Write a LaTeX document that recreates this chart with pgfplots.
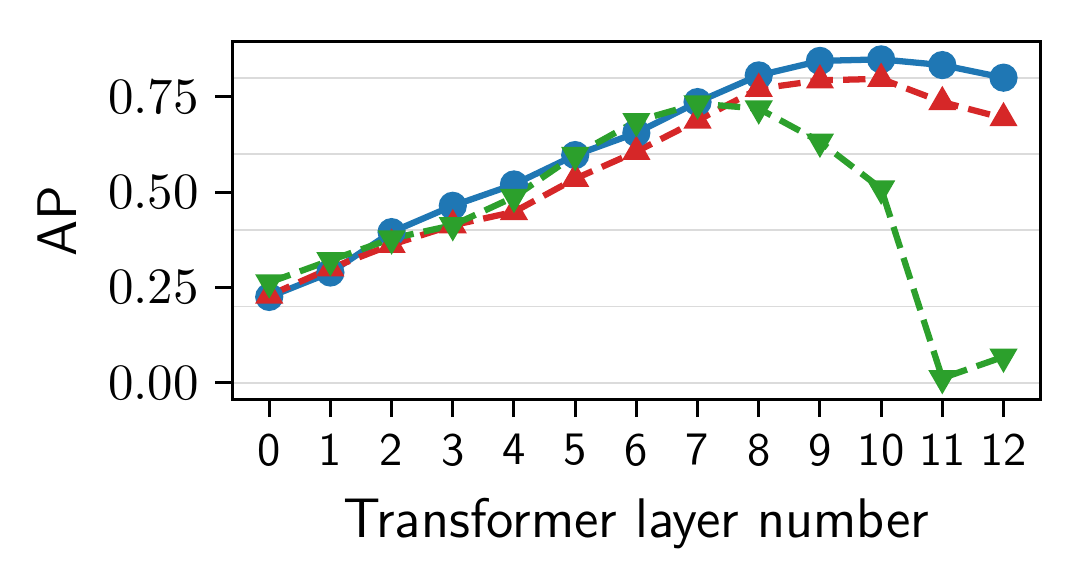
\documentclass[border=0pt]{standalone}
\usepackage{pgfplots}
\pgfplotsset{compat=1.18}
\definecolor{tblue}{HTML}{1F77B4}
\definecolor{tred}{HTML}{D62728}
\definecolor{tgreen}{HTML}{2CA02C}
\begin{document}
\begin{tikzpicture}
\begin{axis}[
  name=ax,
  scale only axis,
  width=173.7pt, height=77pt,
  xmin=-0.6, xmax=12.6, ymin=-0.045, ymax=0.894,
  axis line style={line width=0.65pt},
  xtick={0,1,2,3,4,5,6,7,8,9,10,11,12},
  xticklabels={0,1,2,3,4,5,6,7,8,9,10,11,12},
  xticklabel style={font=\fontsize{10}{12}\sffamily},
  ytick={0,0.25,0.5,0.75},
  yticklabel style={/pgf/number format/fixed,/pgf/number format/fixed zerofill,/pgf/number format/precision=2, font=\fontsize{10.8}{12}\selectfont},
  minor ytick={0,0.2,0.4,0.6,0.8},
  yminorgrids=true,
  minor grid style={line width=0.4pt, color=black!14},
  minor tick length=0pt,
  tick align=outside,
  major tick length=3.7pt,
  tick style={line width=0.65pt, black},
  xtick pos=bottom, ytick pos=left,
  xlabel={Transformer layer number},
  ylabel={AP},
  label style={font=\fontsize{12}{14}\sffamily},
  every axis plot/.append style={line width=1.35pt},
]
\addplot[tblue, mark=*, mark size=2.35pt] coordinates {
(0,0.225)(1,0.289)(2,0.395)(3,0.464)(4,0.52)(5,0.597)(6,0.655)(7,0.736)(8,0.806)(9,0.844)(10,0.848)(11,0.833)(12,0.80)};
\addplot[tred, dash pattern=on 4.8pt off 2.2pt, mark=triangle*, mark size=3pt, mark options={solid, line width=0.5pt}] coordinates {
(0,0.229)(1,0.30)(2,0.362)(3,0.413)(4,0.448)(5,0.535)(6,0.606)(7,0.688)(8,0.771)(9,0.793)(10,0.797)(11,0.736)(12,0.694)};
\addplot[tgreen, dash pattern=on 4.8pt off 2.2pt, mark=triangle*, mark size=3pt, mark options={solid, rotate=180, line width=0.5pt}] coordinates {
(0,0.263)(1,0.321)(2,0.378)(3,0.413)(4,0.487)(5,0.597)(6,0.686)(7,0.732)(8,0.719)(9,0.632)(10,0.509)(11,0.012)(12,0.068)};
\end{axis}
\pgfresetboundingbox
\path ([xshift=-50pt,yshift=-38.4pt]ax.south west) rectangle ([xshift=7.7pt,yshift=9pt]ax.north east);
\end{tikzpicture}
\end{document}
